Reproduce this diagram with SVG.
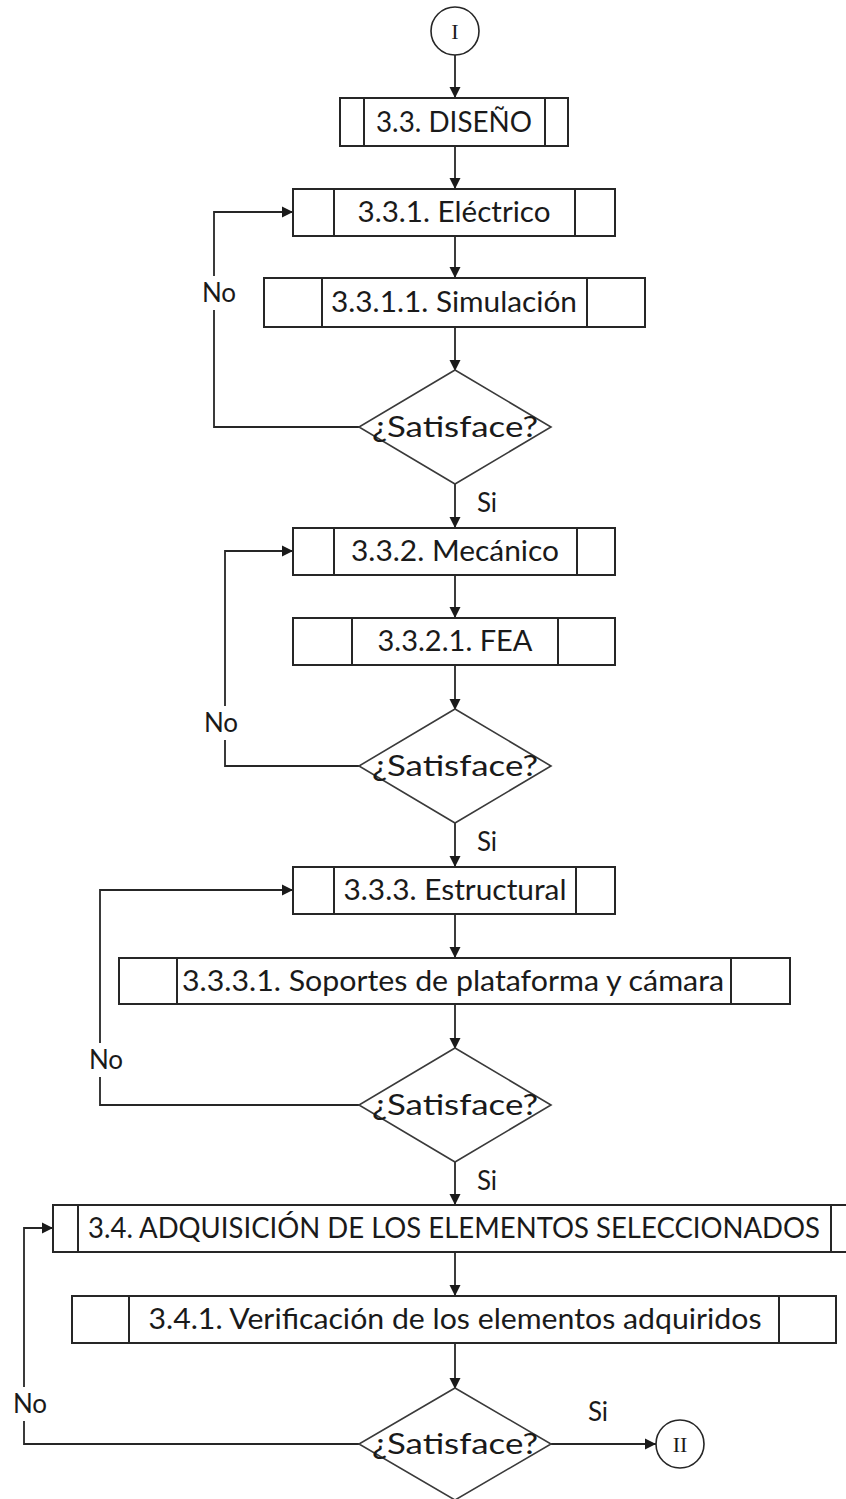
<svg xmlns="http://www.w3.org/2000/svg" width="846" height="1499" viewBox="0 0 846 1499">
  <style>
    .box { fill: #ffffff; stroke: #262626; stroke-width: 2; }
    .bar { stroke: #262626; stroke-width: 2; }
    .dec { fill: #ffffff; stroke: #3a3a3a; stroke-width: 1.6; }
    .term { fill: #ffffff; stroke: #262626; stroke-width: 1.6; }
    .edge { fill: none; stroke: #262626; stroke-width: 1.8; }
    .lbl { font-family: Lato, "Open Sans", "Liberation Sans", sans-serif; font-size: 28px; fill: #1a1a1a; text-anchor: middle; }
    .yn { font-family: Lato, "Open Sans", "Liberation Sans", sans-serif; font-size: 26px; fill: #1a1a1a; text-anchor: middle; }
    .roman { font-family: "Liberation Serif", "DejaVu Serif", serif; font-size: 22px; fill: #1a1a1a; text-anchor: middle; }
  </style>
  <defs>
    <marker id="arrow" markerUnits="userSpaceOnUse" markerWidth="13" markerHeight="13" refX="11" refY="6.5" orient="auto">
      <path d="M0,1 L11,6.5 L0,12 Z" fill="#1a1a1a"/>
    </marker>
  </defs>
  <rect width="846" height="1499" fill="#ffffff"/>

  <g id="connectors">
    <path class="edge" d="M455,55 V98" marker-end="url(#arrow)"/>
    <path class="edge" d="M455,146 V189" marker-end="url(#arrow)"/>
    <path class="edge" d="M455,236 V278" marker-end="url(#arrow)"/>
    <path class="edge" d="M455,327 V371" marker-end="url(#arrow)"/>
    <path class="edge" d="M455,484 V528" marker-end="url(#arrow)"/>
    <path class="edge" d="M455,575 V618" marker-end="url(#arrow)"/>
    <path class="edge" d="M455,665 V710" marker-end="url(#arrow)"/>
    <path class="edge" d="M455,823 V867" marker-end="url(#arrow)"/>
    <path class="edge" d="M455,914 V958" marker-end="url(#arrow)"/>
    <path class="edge" d="M455,1004 V1049" marker-end="url(#arrow)"/>
    <path class="edge" d="M455,1162 V1205" marker-end="url(#arrow)"/>
    <path class="edge" d="M455,1252 V1296" marker-end="url(#arrow)"/>
    <path class="edge" d="M455,1343 V1389" marker-end="url(#arrow)"/>
    <!-- "No" loops back to the block above -->
    <path class="edge" d="M359,427 H214 V212 H293" marker-end="url(#arrow)"/>
    <path class="edge" d="M359,766 H225 V551 H293" marker-end="url(#arrow)"/>
    <path class="edge" d="M359,1105 H100 V890 H293" marker-end="url(#arrow)"/>
    <path class="edge" d="M359,1444 H24 V1228 H53" marker-end="url(#arrow)"/>
    <!-- "Si" exit to the off-page connector -->
    <path class="edge" d="M551,1444 H656" marker-end="url(#arrow)"/>
    <!-- branch labels -->
    <rect x="198" y="276" width="40" height="34" fill="#ffffff"/>
    <text class="yn" x="219" y="302">No</text>
    <rect x="201" y="706" width="40" height="34" fill="#ffffff"/>
    <text class="yn" x="221" y="732">No</text>
    <rect x="86" y="1043" width="40" height="34" fill="#ffffff"/>
    <text class="yn" x="106" y="1069">No</text>
    <rect x="10" y="1387" width="40" height="34" fill="#ffffff"/>
    <text class="yn" x="30" y="1413">No</text>
    <text class="yn" x="487" y="512">Si</text>
    <text class="yn" x="487" y="851">Si</text>
    <text class="yn" x="487" y="1190">Si</text>
    <text class="yn" x="598" y="1421">Si</text>
  </g>

  <g id="start">
    <circle class="term" cx="455" cy="31" r="24"/>
    <text class="roman" x="455" y="39">I</text>
  </g>

  <g id="diseno">
    <rect class="box" x="340" y="98" width="228" height="48"/>
    <line class="bar" x1="364" y1="98" x2="364" y2="146"/>
    <line class="bar" x1="545" y1="98" x2="545" y2="146"/>
    <text class="lbl" x="454" y="132" textLength="156" lengthAdjust="spacingAndGlyphs">3.3. DISEÑO</text>
  </g>

  <g id="electrico">
    <rect class="box" x="293" y="189" width="322" height="47"/>
    <line class="bar" x1="334" y1="189" x2="334" y2="236"/>
    <line class="bar" x1="575" y1="189" x2="575" y2="236"/>
    <text class="lbl" x="454" y="222" textLength="193" lengthAdjust="spacingAndGlyphs">3.3.1. Eléctrico</text>
  </g>

  <g id="simulacion">
    <rect class="box" x="264" y="278" width="381" height="49"/>
    <line class="bar" x1="322" y1="278" x2="322" y2="327"/>
    <line class="bar" x1="587" y1="278" x2="587" y2="327"/>
    <text class="lbl" x="454" y="312" textLength="246" lengthAdjust="spacingAndGlyphs">3.3.1.1. Simulación</text>
  </g>

  <g id="decision-1">
    <polygon class="dec" points="455,370 551,427 455,484 359,427"/>
    <text class="lbl" x="455" y="437" textLength="166" lengthAdjust="spacingAndGlyphs">¿Satisface?</text>
  </g>

  <g id="mecanico">
    <rect class="box" x="293" y="528" width="322" height="47"/>
    <line class="bar" x1="334" y1="528" x2="334" y2="575"/>
    <line class="bar" x1="577" y1="528" x2="577" y2="575"/>
    <text class="lbl" x="455" y="561" textLength="208" lengthAdjust="spacingAndGlyphs">3.3.2. Mecánico</text>
  </g>

  <g id="fea">
    <rect class="box" x="293" y="618" width="322" height="47"/>
    <line class="bar" x1="352" y1="618" x2="352" y2="665"/>
    <line class="bar" x1="558" y1="618" x2="558" y2="665"/>
    <text class="lbl" x="455" y="651" textLength="155" lengthAdjust="spacingAndGlyphs">3.3.2.1. FEA</text>
  </g>

  <g id="decision-2">
    <polygon class="dec" points="455,709 551,766 455,823 359,766"/>
    <text class="lbl" x="455" y="776" textLength="166" lengthAdjust="spacingAndGlyphs">¿Satisface?</text>
  </g>

  <g id="estructural">
    <rect class="box" x="293" y="867" width="322" height="47"/>
    <line class="bar" x1="334" y1="867" x2="334" y2="914"/>
    <line class="bar" x1="576" y1="867" x2="576" y2="914"/>
    <text class="lbl" x="455" y="900" textLength="223" lengthAdjust="spacingAndGlyphs">3.3.3. Estructural</text>
  </g>

  <g id="soportes">
    <rect class="box" x="119" y="958" width="671" height="46"/>
    <line class="bar" x1="177" y1="958" x2="177" y2="1004"/>
    <line class="bar" x1="731" y1="958" x2="731" y2="1004"/>
    <text class="lbl" x="453" y="991" textLength="542" lengthAdjust="spacingAndGlyphs">3.3.3.1. Soportes de plataforma y cámara</text>
  </g>

  <g id="decision-3">
    <polygon class="dec" points="455,1048 551,1105 455,1162 359,1105"/>
    <text class="lbl" x="455" y="1115" textLength="166" lengthAdjust="spacingAndGlyphs">¿Satisface?</text>
  </g>

  <g id="adquisicion">
    <rect class="box" x="53" y="1205" width="804" height="47"/>
    <line class="bar" x1="78" y1="1205" x2="78" y2="1252"/>
    <line class="bar" x1="831" y1="1205" x2="831" y2="1252"/>
    <text class="lbl" x="454" y="1238" textLength="732" lengthAdjust="spacingAndGlyphs">3.4. ADQUISICIÓN DE LOS ELEMENTOS SELECCIONADOS</text>
  </g>

  <g id="verificacion">
    <rect class="box" x="72" y="1296" width="764" height="47"/>
    <line class="bar" x1="129" y1="1296" x2="129" y2="1343"/>
    <line class="bar" x1="779" y1="1296" x2="779" y2="1343"/>
    <text class="lbl" x="455" y="1329" textLength="613" lengthAdjust="spacingAndGlyphs">3.4.1. Verificación de los elementos adquiridos</text>
  </g>

  <g id="decision-4">
    <polygon class="dec" points="455,1388 551,1444 455,1500 359,1444"/>
    <text class="lbl" x="455" y="1454" textLength="166" lengthAdjust="spacingAndGlyphs">¿Satisface?</text>
  </g>

  <g id="end">
    <circle class="term" cx="680" cy="1444" r="24"/>
    <text class="roman" x="680" y="1452">II</text>
  </g>
</svg>
